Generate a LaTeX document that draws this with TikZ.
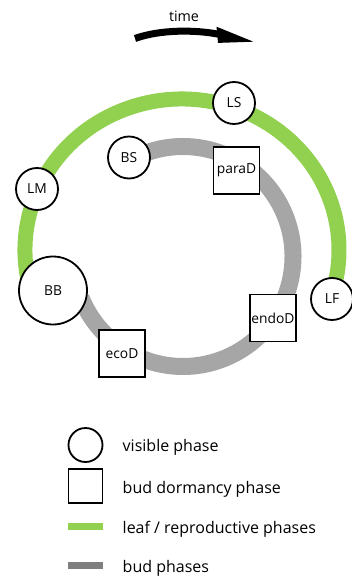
\documentclass[tikz,border=0pt]{standalone}
\usepackage{fontspec}
\setmainfont{Open Sans}
\usetikzlibrary{calc}
\definecolor{leafgreen}{HTML}{92D050}
\definecolor{ringgray}{HTML}{A6A6A6}
\definecolor{legendgray}{HTML}{7F7F7F}
\newcommand{\lblfont}{\fontsize{13.8}{15}\selectfont}
\newcommand{\legfont}{\fontsize{16}{18}\selectfont}
\tikzset{
  phasecirc/.style={circle, draw=black, line width=1.8pt, fill=white, minimum size=#1, inner sep=0pt, font=\lblfont},
  phasebox/.style={rectangle, draw=black, line width=1.8pt, fill=white, minimum width=46pt, minimum height=47pt, inner sep=0pt, font=\lblfont},
  greenring/.style={draw=leafgreen, line width=15pt},
  grayring/.style={draw=ringgray, line width=17pt},
  legtext/.style={anchor=base west, inner sep=0pt, font=\legfont},
}
\begin{document}
\begin{tikzpicture}[x=1pt,y=1pt]
\useasboundingbox (0,0) rectangle (352,-577);
% ring centres
\coordinate (gc) at (182,-250);
\coordinate (bc) at (183,-256.5);
% green ring
\draw[greenring] ([shift={(200:157 and 151)}]gc) arc[start angle=200, end angle=-19, x radius=157, y radius=151];
% gray ring
\draw[grayring] ([shift={(119:110)}]bc) arc[start angle=119, end angle=-158, radius=110];
% time arrow
\node[font=\fontsize{14.3}{16}\selectfont] (time) at (184,-16) {time};
\coordinate (ta) at (135,-38.5);
\coordinate (tb) at (220,-34.5);
\draw[line width=7pt] (ta) .. controls (160,-29.5) and (195,-29.5) .. (tb);
\fill (216.5,-26.7) -- (253.3,-41.7) -- (218,-42.9) -- cycle;
% phase nodes
\node[phasecirc=42pt] (LS) at (234,-103) {LS};
\node[phasecirc=42pt] (LM) at (37,-189) {LM};
\node[phasecirc=42pt] (LF) at (332,-299) {LF};
\node[phasecirc=42pt] (BS) at (129,-157.5) {BS};
\node[phasecirc=68pt] (BB) at (53,-290.5) {BB};
\node[phasebox] (paraD) at (236.5,-170.5) {paraD};
\node[phasebox] (endoD) at (273,-318) {endoD};
\node[phasebox] (ecoD) at (122,-353.5) {ecoD};
% legend
\node[phasecirc=34pt] (lc) at (85.5,-445) {};
\node[phasebox, minimum width=34pt, minimum height=34pt] (lsq) at (85.5,-486) {};
\node[rectangle, fill=leafgreen, minimum width=35pt, minimum height=7pt, inner sep=0pt] (lg) at (85.5,-526.5) {};
\node[rectangle, fill=legendgray, minimum width=35pt, minimum height=7pt, inner sep=0pt] (lgr) at (85.5,-565.5) {};
\node[legtext] (t1) at (122.5,-451.5) {visible phase};
\node[legtext] (t2) at (122.5,-493.5) {bud dormancy phase};
\node[legtext] (t3) at (122.5,-533) {leaf / reproductive phases};
\node[legtext] (t4) at (122.5,-572.5) {bud phases};
\end{tikzpicture}
\end{document}
